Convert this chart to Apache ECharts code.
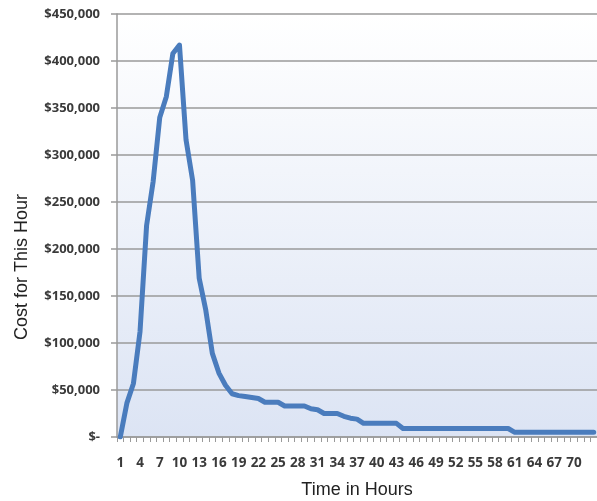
<!DOCTYPE html>
<html>
<head>
<meta charset="utf-8">
<script src="https://cdn.jsdelivr.net/npm/echarts@6/dist/echarts.min.js"></script>
<style>
  html, body { margin: 0; padding: 0; background: #ffffff; }
  #chart { width: 597px; height: 501px; }
</style>
</head>
<body>
<div id="chart"></div>
<script>
// Hours since the event began
const hours = [];
for (let h = 1; h <= 73; h++) hours.push(String(h));

// Cost incurred in each hour (USD)
const costPerHour = [
  0, 36000, 57000, 112000, 225000, 272000, 340000, 362000, 408000, 417000,
  316000, 273000, 169000, 135000, 89000, 68000, 55000, 46000, 44000, 43000,
  42000, 41000, 37000, 37000, 37000, 33000, 33000, 33000, 33000, 30000,
  29000, 25000, 25000, 25000, 22000, 20000, 19000, 14500, 14500, 14500,
  14500, 14500, 14500, 9000, 9000, 9000, 9000, 9000, 9000, 9000,
  9000, 9000, 9000, 9000, 9000, 9000, 9000, 9000, 9000, 9000,
  5000, 5000, 5000, 5000, 5000, 5000, 5000, 5000, 5000, 5000,
  5000, 5000, 5000
];

// Value axis range and step
const yMin = 0;
const yMax = 450000;
const yStep = 50000;

const labelFont = 'Open Sans';
const labelColor = '#3a3a3a';

function money(v) {
  if (v === 0) return '$-';
  return '$' + v.toLocaleString('en-US');
}

const chart = echarts.init(document.getElementById('chart'), null, { renderer: 'canvas' });

chart.setOption({
  animation: false,
  backgroundColor: '#ffffff',
  grid: {
    left: 117,
    top: 14,
    right: 0,
    bottom: 64,
    containLabel: false,
    outerBoundsMode: 'none',
    show: true,
    borderWidth: 0,
    backgroundColor: new echarts.graphic.LinearGradient(0, 0, 0, 1, [
      { offset: 0, color: '#ffffff' },
      { offset: 1, color: '#dce4f4' }
    ])
  },
  xAxis: {
    type: 'category',
    data: hours,
    boundaryGap: true,
    name: 'Time in Hours',
    nameLocation: 'middle',
    nameGap: 44,
    nameTextStyle: { fontFamily: 'Liberation Sans', fontSize: 18, color: '#222222' },
    axisLine: { show: true, lineStyle: { color: '#9a9a9a', width: 1.5 } },
    axisTick: { show: true, interval: 0, length: 5, lineStyle: { color: '#9a9a9a', width: 1 } },
    axisLabel: {
      interval: function (idx) { return idx % 3 === 0 && idx < 72; },
      margin: 19,
      fontFamily: labelFont,
      fontWeight: 'bold',
      fontSize: 13.5,
      color: labelColor
    },
    splitLine: { show: false }
  },
  yAxis: {
    type: 'value',
    min: yMin,
    max: yMax,
    interval: yStep,
    axisLine: { show: true, lineStyle: { color: '#9a9a9a', width: 1.5 } },
    axisTick: { show: true, length: 6, lineStyle: { color: '#9a9a9a', width: 1.5 } },
    axisLabel: {
      formatter: money,
      margin: 17,
      fontFamily: labelFont,
      fontWeight: 'bold',
      fontSize: 13,
      color: labelColor
    },
    splitLine: { show: true, lineStyle: { color: '#9a9a9a', width: 1.5 } }
  },
  graphic: [
    {
      type: 'text',
      x: 22,
      y: 267,
      rotation: Math.PI / 2,
      style: {
        text: 'Cost for This Hour',
        fontFamily: 'Liberation Sans',
        fontSize: 18,
        fill: '#222222',
        align: 'center',
        verticalAlign: 'middle'
      }
    }
  ],
  series: [
    {
      type: 'line',
      data: costPerHour,
      showSymbol: false,
      symbol: 'none',
      smooth: false,
      lineStyle: { color: '#4a7cbd', width: 5, join: 'round', cap: 'round' }
    }
  ]
});
</script>
</body>
</html>
